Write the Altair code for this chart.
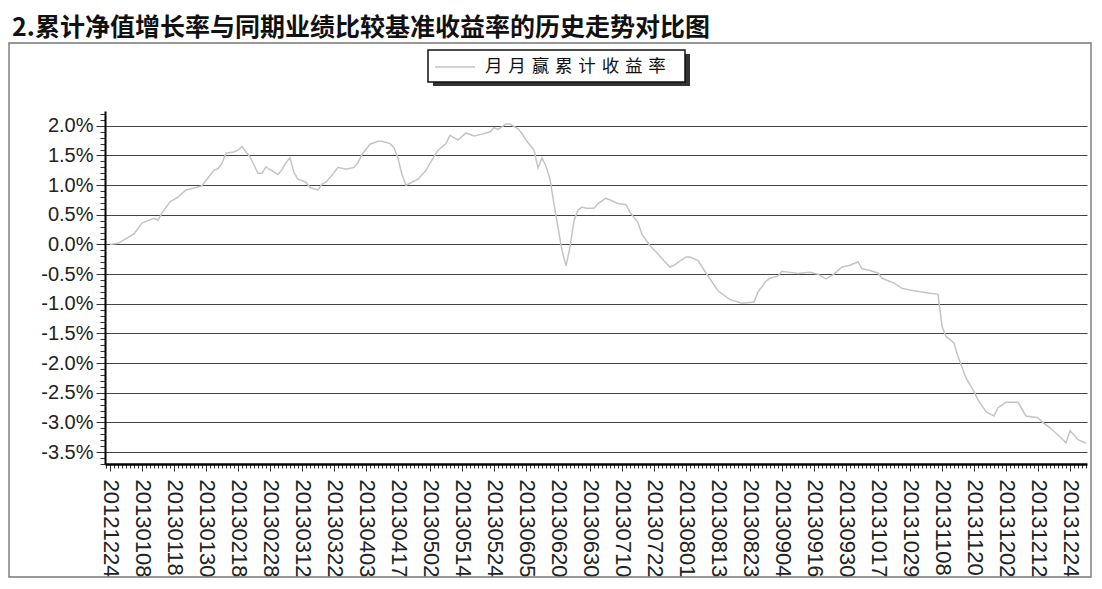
import json
import altair as alt
import pandas as pd

# ---------------- data ----------------
title_text = "2.累计净值增长率与同期业绩比较基准收益率的历史走势对比图"
series_name = "月月赢累计收益率"

# x-axis tick labels: one every 8 trading days
date_labels = [
    "20121224", "20130108", "20130118", "20130130", "20130218", "20130228",
    "20130312", "20130322", "20130403", "20130417", "20130502", "20130514",
    "20130524", "20130605", "20130620", "20130630", "20130710", "20130722",
    "20130801", "20130813", "20130823", "20130904", "20130916", "20130930",
    "20131017", "20131029", "20131108", "20131120", "20131202", "20131212",
    "20131224",
]

# trading-day number (0 = 20121224) and cumulative return in %
day_index = [
    0, 2, 6, 8, 11, 12, 13, 15, 17, 19, 22, 23, 24, 26, 27, 28, 29, 31, 32, 33,
    34, 35, 37, 38, 39, 40, 42, 43, 44, 45, 46, 47, 49, 50, 52, 53, 54, 56, 57, 59,
    61, 62, 63, 65, 67, 68, 70, 71, 72, 73, 74, 77, 79, 80, 81, 82, 84, 85, 87, 89,
    91, 93, 95, 96, 97, 99, 100, 102, 103, 104, 106, 107, 108, 109, 110, 111, 112, 113, 114, 115,
    116, 117, 118, 119, 121, 122, 124, 126, 127, 129, 130, 132, 133, 135, 137, 138, 140, 141, 142, 144,
    145, 147, 149, 152, 155, 158, 161, 162, 164, 165, 167, 168, 170, 172, 175, 177, 179, 181, 183, 185,
    187, 188, 190, 192, 193, 196, 198, 201, 203, 205, 207, 208, 209, 211, 212, 214, 216, 217, 219, 221,
    222, 224, 226, 227, 229, 232, 233, 235, 237, 239, 240, 241, 242, 244,
]
cum_return = [
    0.00, 0.02, 0.18, 0.36, 0.44, 0.41, 0.53, 0.72, 0.80, 0.92, 0.97, 0.99, 1.08, 1.25, 1.28, 1.37, 1.54, 1.56, 1.59, 1.65,
    1.56, 1.48, 1.20, 1.20, 1.31, 1.26, 1.18, 1.26, 1.38, 1.46, 1.21, 1.10, 1.05, 0.96, 0.92, 1.02, 1.05, 1.21, 1.30, 1.27,
    1.30, 1.38, 1.52, 1.69, 1.74, 1.74, 1.70, 1.63, 1.45, 1.18, 1.00, 1.10, 1.25, 1.37, 1.48, 1.59, 1.70, 1.84, 1.76, 1.88,
    1.83, 1.86, 1.90, 1.97, 1.94, 2.03, 2.03, 1.95, 1.87, 1.76, 1.59, 1.29, 1.46, 1.32, 1.10, 0.68, 0.29, -0.10, -0.36, -0.05,
    0.40, 0.58, 0.63, 0.61, 0.61, 0.69, 0.78, 0.72, 0.69, 0.67, 0.54, 0.37, 0.17, -0.02, -0.16, -0.24, -0.38, -0.35, -0.30, -0.21,
    -0.21, -0.27, -0.48, -0.78, -0.93, -0.99, -0.97, -0.80, -0.62, -0.57, -0.53, -0.45, -0.47, -0.49, -0.47, -0.50, -0.58, -0.50, -0.38, -0.35,
    -0.29, -0.41, -0.44, -0.48, -0.57, -0.65, -0.74, -0.78, -0.80, -0.82, -0.84, -1.38, -1.55, -1.66, -1.89, -2.25, -2.48, -2.62, -2.82, -2.89,
    -2.75, -2.66, -2.66, -2.66, -2.89, -2.92, -2.99, -3.09, -3.21, -3.34, -3.14, -3.21, -3.29, -3.35,
]

# y tick positions (every 0.1 %, labelled every 0.5 %)
y_ticks = [round(-3.7 + 0.1 * i, 1) for i in range(60)]
x_ticks = list(range(-1, 245))

df = pd.DataFrame({"day": day_index, "value": cum_return, "series": series_name})

lab_js = json.dumps(date_labels)
x_label_expr = (
    f"(datum.value % 8 == 0 && datum.value >= 0 && datum.value <= 240) ? "
    f"{lab_js}[datum.value / 8] : ''"
)
half_test = "abs(datum.value * 2 - round(datum.value * 2)) < 0.001"
y_label_expr = (
    f"({half_test}) ? ((datum.value < -0.01 ? '-' : '') + "
    "format(abs(datum.value), '.1f') + '%') : ''"
)

x_enc = alt.X(
    "day:Q",
    scale=alt.Scale(domain=[-1.25, 244.25], nice=False, zero=False),
    axis=alt.Axis(
        title=None,
        values=x_ticks,
        labelExpr=x_label_expr,
        labelAngle=90,
        labelFont="Liberation Sans",
        labelFontSize=22,
        labelColor="#222",
        labelPadding=8,
        labelOverlap=False,
        labelFlush=False,
        labelBound=False,
        tickSize={"condition": {"test": "datum.value % 8 == 0", "value": 7}, "value": 4},
        tickColor="#333",
        tickWidth=1,
        domainColor="#000",
        domainWidth=2.5,
        grid=False,
    ),
)

y_enc = alt.Y(
    "value:Q",
    scale=alt.Scale(domain=[-3.70, 2.25], nice=False, zero=False),
    axis=alt.Axis(
        title=None,
        values=y_ticks,
        labelExpr=y_label_expr,
        labelFont="Liberation Sans",
        labelFontSize=20,
        labelColor="#222",
        labelPadding=3,
        labelOverlap=False,
        labelFlush=False,
        tickSize={"condition": {"test": half_test, "value": 9}, "value": 5},
        tickColor="#333",
        tickWidth=1,
        domainColor="#000",
        domainWidth=2,
        grid=True,
        gridColor="#444",
        gridWidth=1.1,
        gridOpacity={"condition": {"test": half_test, "value": 1}, "value": 0},
    ),
)

color_enc = alt.Color(
    "series:N",
    scale=alt.Scale(domain=[series_name], range=["#c4c4c4"]),
    legend=alt.Legend(
        title=None,
        orient="none",
        legendX=323,
        legendY=-71,
        symbolType="stroke",
        symbolSize=1600,
        symbolStrokeWidth=1.5,
        labelExpr="join(split(datum.label, ''), '\u2004')",
        labelFont="Noto Sans CJK SC",
        labelFontSize=17.5,
        labelColor="#111",
        labelOffset=9,
        labelLimit=400,
        padding=6,
        strokeColor="transparent",
        fillColor="transparent",
    ),
)

line = alt.Chart(df).mark_line(strokeWidth=1.5).encode(x=x_enc, y=y_enc, color=color_enc)

one = alt.Data(values=[{}])
border = alt.Chart(one).mark_rect(fillOpacity=0, stroke="#777", strokeWidth=1.4).encode(
    x=alt.value(-96), x2=alt.value(986), y=alt.value(-68), y2=alt.value(466)
)
title = alt.Chart(one).mark_text(
    text=title_text, align="left", baseline="alphabetic", fontSize=25,
    fontWeight="bold", font="Noto Sans CJK SC", color="#111",
).encode(x=alt.value(-93), y=alt.value(-75))
shadow = alt.Chart(one).mark_rect(color="#333").encode(
    x=alt.value(328), x2=alt.value(585), y=alt.value(-57), y2=alt.value(-25)
)
legend_box = alt.Chart(one).mark_rect(fill="#ffffff", stroke="#111", strokeWidth=1.5).encode(
    x=alt.value(323), x2=alt.value(580), y=alt.value(-61), y2=alt.value(-29)
)

chart = (
    alt.layer(border, title, shadow, legend_box, line)
    .properties(
        width=982,
        height=353,
        autosize=alt.AutoSizeParams(type="none"),
        padding={"left": 97, "top": 103, "right": 5, "bottom": 114},
        background="#ffffff",
    )
    .configure_view(stroke=None)
)

chart.save("out.html", embed_options={"renderer": "svg", "actions": False})
